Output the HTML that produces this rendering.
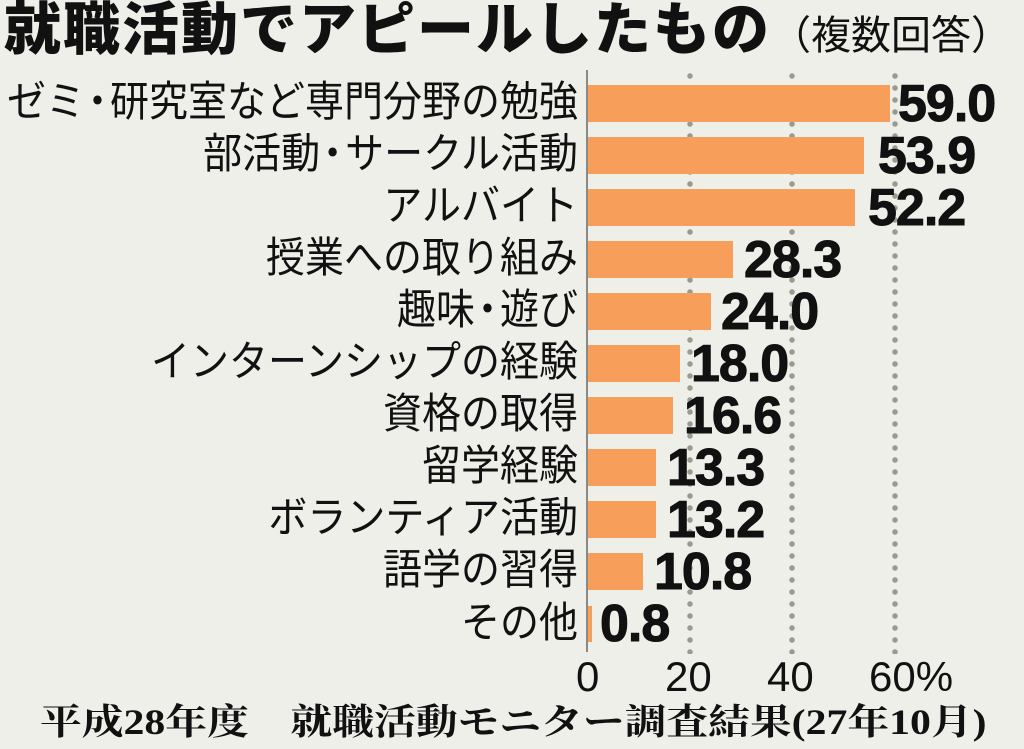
<!DOCTYPE html>
<html><head><meta charset="utf-8"><style>
body{margin:0;width:1024px;height:749px;background:#efefea;overflow:hidden;position:relative;font-family:"Liberation Sans","Noto Sans CJK JP",sans-serif;color:#111}
.t{position:absolute;white-space:nowrap}
.lab{position:absolute;right:446px;font-size:39px;line-height:40px;white-space:nowrap;transform:scaleY(1.08);transform-origin:right center}
.bar{position:absolute;left:588px;height:37px;background:#f79e5a}
.val{position:absolute;font-size:52px;font-weight:bold;line-height:44px;letter-spacing:-1px;-webkit-text-stroke:1px #111}
.dot{position:absolute;top:70px;width:6px;height:584px;background:radial-gradient(circle,#9c9a90 2.5px,transparent 3px) 0 0/6px 12px repeat-y}
.tick{position:absolute;top:655px;font-size:42px;line-height:44px}
</style></head><body>
<div class="t" style="left:4px;top:0px;font-size:57px;font-weight:900;line-height:60px;letter-spacing:2px">就職活動でアピールしたもの<span style="font-size:40px;font-weight:normal;letter-spacing:0">（複数回答）</span></div>
<div class="dot" style="left:687px"></div>
<div class="dot" style="left:789px"></div>
<div class="dot" style="left:892px"></div>
<div style="position:absolute;left:586px;top:70px;width:2px;height:582px;background:#8a8a84"></div>

<div class="bar" style="top:85px;width:302px"></div>
<div class="bar" style="top:137px;width:276px"></div>
<div class="bar" style="top:189px;width:267px"></div>
<div class="bar" style="top:241px;width:145px"></div>
<div class="bar" style="top:293px;width:123px"></div>
<div class="bar" style="top:345px;width:92px"></div>
<div class="bar" style="top:397px;width:85px"></div>
<div class="bar" style="top:449px;width:68px"></div>
<div class="bar" style="top:501px;width:68px"></div>
<div class="bar" style="top:553px;width:55px"></div>
<div class="bar" style="top:606px;width:4px;height:36px"></div>

<div class="lab" style="top:83px">ゼミ<span style="letter-spacing:-14px;margin-left:-7px">・</span><span style="margin-left:7px"></span>研究室など専門分野の勉強</div>
<div class="lab" style="top:135px">部活動<span style="letter-spacing:-14px;margin-left:-7px">・</span><span style="margin-left:7px"></span>サークル活動</div>
<div class="lab" style="top:187px">アルバイト</div>
<div class="lab" style="top:239px">授業への取り組み</div>
<div class="lab" style="top:291px">趣味<span style="letter-spacing:-14px;margin-left:-7px">・</span><span style="margin-left:7px"></span>遊び</div>
<div class="lab" style="top:343px">インターンシップの経験</div>
<div class="lab" style="top:395px">資格の取得</div>
<div class="lab" style="top:447px">留学経験</div>
<div class="lab" style="top:499px">ボランティア活動</div>
<div class="lab" style="top:551px">語学の習得</div>
<div class="lab" style="top:604px">その他</div>

<div class="val" style="left:898px;top:82px">59.0</div>
<div class="val" style="left:878px;top:134px">53.9</div>
<div class="val" style="left:868px;top:186px">52.2</div>
<div class="val" style="left:744px;top:238px">28.3</div>
<div class="val" style="left:721px;top:290px">24.0</div>
<div class="val" style="left:691px;top:342px">18.0</div>
<div class="val" style="left:684px;top:394px">16.6</div>
<div class="val" style="left:667px;top:446px">13.3</div>
<div class="val" style="left:667px;top:498px">13.2</div>
<div class="val" style="left:654px;top:550px">10.8</div>
<div class="val" style="left:600px;top:602px">0.8</div>

<div class="tick" style="left:576px">0</div>
<div class="tick" style="left:665px">20</div>
<div class="tick" style="left:767px">40</div>
<div class="tick" style="left:869px">60%</div>

<div class="t" style="left:40px;top:700px;font-size:36px;line-height:44px;font-weight:bold;font-family:'Liberation Serif','Noto Serif CJK SC',serif;transform:scaleX(1.16);transform-origin:left center">平成28年度　就職活動モニター調査結果(27年10月)</div>
</body></html>
